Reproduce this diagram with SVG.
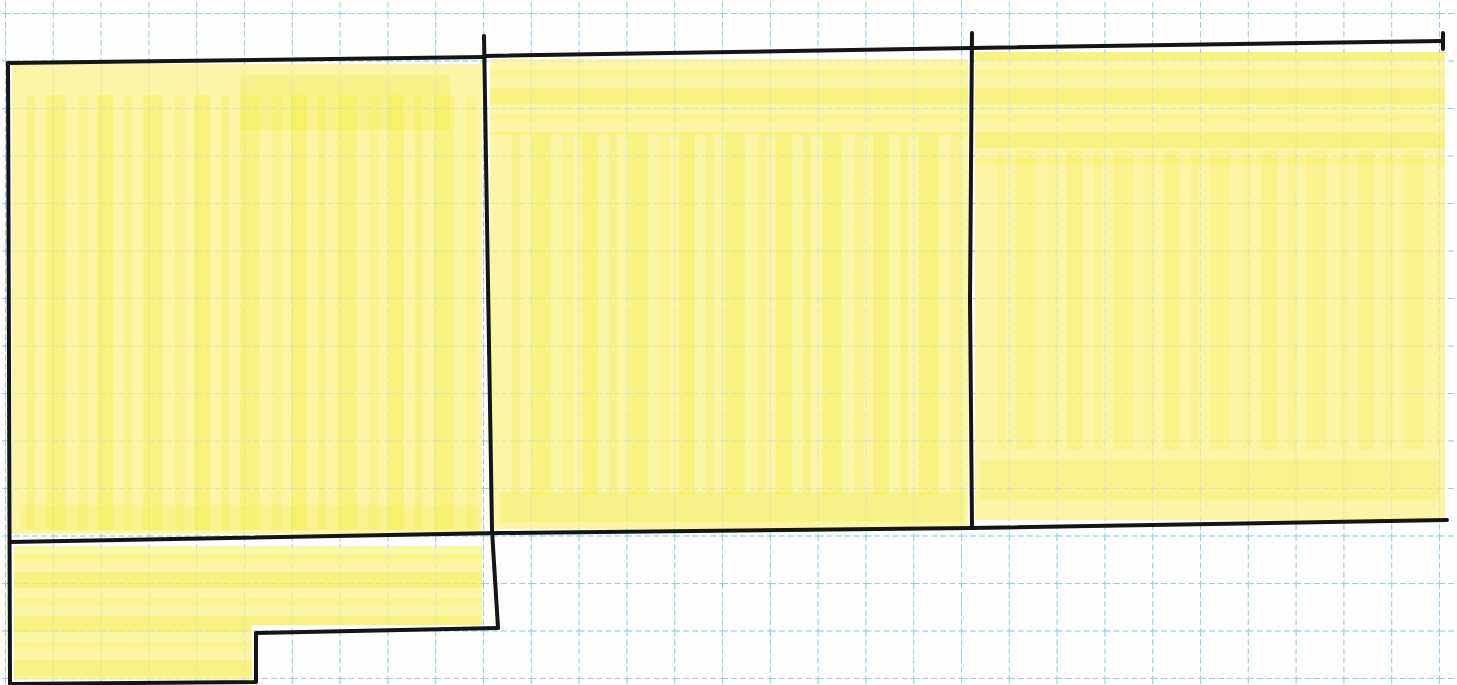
<svg xmlns="http://www.w3.org/2000/svg" width="1457" height="685" viewBox="0 0 1457 685">
<defs>
<pattern id="grid" x="5" y="13" width="47.8" height="47.5" patternUnits="userSpaceOnUse">
<path d="M0.5 0 V47.5 M0 0.5 H47.8" fill="none" stroke="#9ccbe3" stroke-width="1" stroke-dasharray="6 3"/>
</pattern>
<pattern id="vstreak" x="0" y="0" width="97" height="10" patternUnits="userSpaceOnUse">
<rect x="0" y="0" width="16" height="10" fill="#f5ec30" opacity="0.35"/>
<rect x="27" y="0" width="8" height="10" fill="#f5ec30" opacity="0.25"/>
<rect x="46" y="0" width="20" height="10" fill="#f5ec30" opacity="0.3"/>
<rect x="78" y="0" width="10" height="10" fill="#f5ec30" opacity="0.2"/>
</pattern>
<pattern id="hstreak" x="0" y="0" width="10" height="44" patternUnits="userSpaceOnUse">
<rect x="0" y="0" width="10" height="16" fill="#f5ec30" opacity="0.32"/>
<rect x="0" y="26" width="10" height="7" fill="#f5ec30" opacity="0.2"/>
</pattern>
</defs>
<style>
.paper{fill:#fefefe}
.hl{fill:#faf6a6}
.ink{fill:none;stroke:#151515;stroke-width:4;stroke-linecap:round;stroke-linejoin:round}
</style>
<rect class="paper" width="1457" height="685"/>
<rect width="1457" height="685" fill="url(#grid)"/>
<g id="highlight">
<g id="room1">
<rect class="hl" x="12" y="64" width="470" height="470"/>
<rect x="20" y="95" width="462" height="435" fill="url(#vstreak)"/>
<rect x="240" y="75" width="210" height="55" fill="#f5ec30" opacity="0.25"/>
<rect x="20" y="505" width="460" height="25" fill="#f5ec30" opacity="0.2"/>
</g>
<g id="room2">
<rect class="hl" x="490" y="59" width="478" height="470"/>
<rect x="490" y="60" width="478" height="75" fill="url(#hstreak)"/>
<rect x="505" y="135" width="460" height="360" fill="url(#vstreak)"/>
<rect x="500" y="492" width="465" height="30" fill="#f5ec30" opacity="0.25"/>
</g>
<g id="room3">
<rect class="hl" x="975" y="52" width="470" height="468"/>
<rect x="975" y="52" width="470" height="120" fill="url(#hstreak)"/>
<rect x="990" y="150" width="450" height="300" fill="url(#vstreak)" opacity="0.7"/>
<rect x="980" y="460" width="460" height="40" fill="#f5ec30" opacity="0.2"/>
</g>
<g id="room4">
<path class="hl" d="M14 546 H482 V625 H252 V680 H14 Z"/>
<path d="M14 546 H482 V625 H252 V680 H14 Z" fill="url(#hstreak)"/>
</g>
<rect x="0" y="30" width="1457" height="655" fill="url(#grid)" opacity="0.35"/>
</g>
<g id="walls">
<path class="ink" d="M8 63 L485 57"/>
<path class="ink" d="M485 56 L972 48 L1443 41"/>
<path class="ink" d="M1443 33 V49"/>
<path class="ink" d="M8 63 L10 684 L256 682 L256 633 L498 628"/>
<path class="ink" d="M484 36 L492 530 L498 628"/>
<path class="ink" d="M972 33 L970 300 L972 527"/>
<path class="ink" d="M10 542 L498 533 L972 528 L1447 520"/>
</g>
</svg>
